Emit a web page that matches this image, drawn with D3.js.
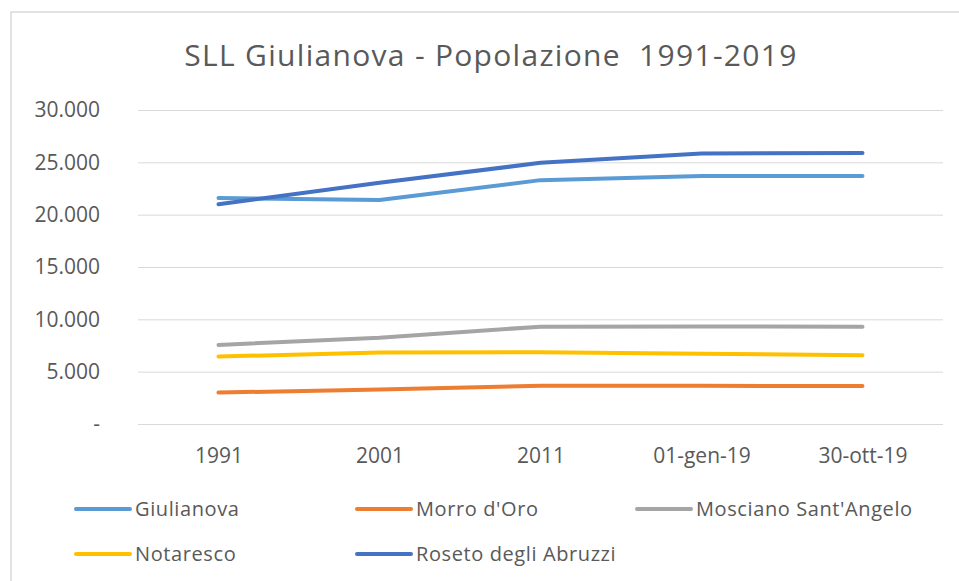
<!DOCTYPE html>
<html>
<head>
<meta charset="utf-8">
<script src="https://cdn.jsdelivr.net/npm/d3@7"></script>
<style>
  body { margin: 0; background: #fff; }
  svg { display: block; font-family: "Open Sans", sans-serif; }
  .tick text { fill: #595959; }
</style>
</head>
<body>
<svg></svg>
<script>
const WIDTH = 959;
const HEIGHT = 581;

// data
const categories = ['1991', '2001', '2011', '01-gen-19', '30-ott-19'];
const giulianova = [21600, 21400, 23300, 23700, 23700];
const morroDOro = [3000, 3300, 3650, 3650, 3620];
const mosciano = [7550, 8250, 9300, 9320, 9300];
const notaresco = [6450, 6820, 6850, 6700, 6580];
const roseto = [21000, 23050, 24950, 25850, 25900];
const yTicks = [0, 5000, 10000, 15000, 20000, 25000, 30000];

const series = [
  {name: 'Giulianova', values: giulianova, color: '#5B9BD5'},
  {name: "Morro d'Oro", values: morroDOro, color: '#ED7D31'},
  {name: "Mosciano Sant'Angelo", values: mosciano, color: '#A5A5A5'},
  {name: 'Notaresco', values: notaresco, color: '#FFC000'},
  {name: 'Roseto degli Abruzzi', values: roseto, color: '#4472C4'}
];

const svg = d3.select('svg').attr('width', WIDTH).attr('height', HEIGHT);

// chart frame (only top and left edges are visible)
svg.append('rect')
  .attr('x', 11).attr('y', 12)
  .attr('width', 980).attr('height', 600)
  .attr('fill', 'none')
  .attr('stroke', '#d9d9d9')
  .attr('stroke-width', 1.5);

const x = d3.scalePoint().domain(categories).range([138, 943]).padding(0.5);
const y = d3.scaleLinear().domain([0, 30000]).range([424, 110]);

const it = d3.formatLocale({decimal: ',', thousands: '.', grouping: [3], currency: ['', '€']});
const fmt = v => (v === 0 ? '-' : it.format(',')(v));

// gridlines
svg.append('g')
  .attr('transform', 'translate(138,0)')
  .call(d3.axisLeft(y).tickValues(yTicks).tickSize(-805).tickFormat(''))
  .call(g => g.select('.domain').remove())
  .call(g => g.selectAll('line').attr('stroke', '#d9d9d9').attr('stroke-width', 1));

// y labels
svg.append('g')
  .attr('transform', 'translate(138,0)')
  .call(d3.axisLeft(y).tickValues(yTicks).tickSize(0).tickPadding(38).tickFormat(fmt))
  .call(g => g.select('.domain').remove())
  .call(g => g.selectAll('text').attr('font-size', 21).attr('font-family', '"Open Sans", sans-serif'));

// x labels
svg.append('g')
  .attr('transform', 'translate(0,424)')
  .call(d3.axisBottom(x).tickSize(0).tickPadding(24))
  .call(g => g.select('.domain').remove())
  .call(g => g.selectAll('text').attr('font-size', 21).attr('font-family', '"Open Sans", sans-serif'));

const line = d3.line()
  .x((d, i) => x(categories[i]))
  .y(d => y(d));

svg.append('g')
  .selectAll('path')
  .data(series)
  .join('path')
  .attr('d', d => line(d.values))
  .attr('fill', 'none')
  .attr('stroke', d => d.color)
  .attr('stroke-width', 4)
  .attr('stroke-linecap', 'round')
  .attr('stroke-linejoin', 'round');

// title
svg.append('text')
  .attr('x', 491).attr('y', 66)
  .attr('text-anchor', 'middle')
  .attr('font-size', 30)
  .attr('letter-spacing', 1.3)
  .attr('fill', '#595959')
  .style('white-space', 'pre')
  .text('SLL Giulianova - Popolazione  1991-2019');

// legend
const legendPos = [[76, 509], [357, 509], [637, 509], [76, 554], [357, 554]];
const legend = svg.append('g')
  .selectAll('g')
  .data(series)
  .join('g')
  .attr('transform', (d, i) => `translate(${legendPos[i][0]},${legendPos[i][1]})`);

legend.append('line')
  .attr('x1', 0).attr('x2', 54)
  .attr('stroke', d => d.color)
  .attr('stroke-width', 4)
  .attr('stroke-linecap', 'round');

legend.append('text')
  .attr('x', 59)
  .attr('dy', '0.35em')
  .attr('font-size', 20)
  .attr('letter-spacing', 0.6)
  .attr('fill', '#595959')
  .text(d => d.name);
</script>
</body>
</html>
